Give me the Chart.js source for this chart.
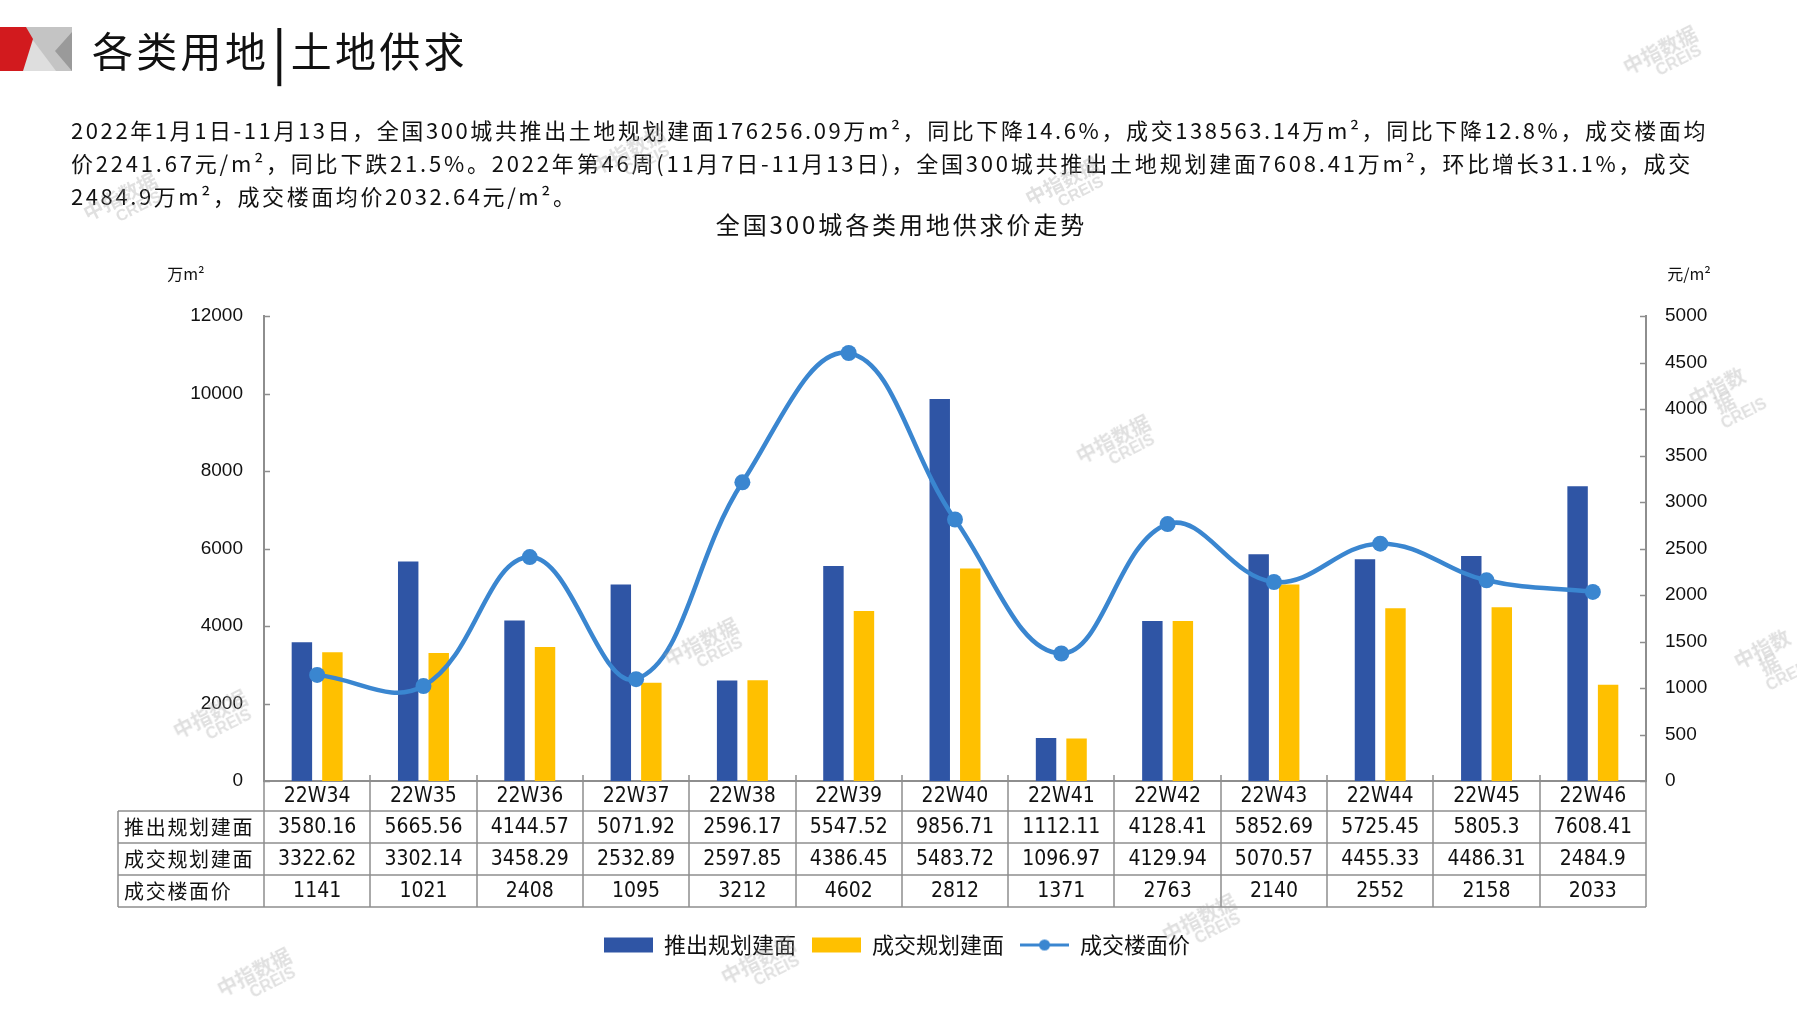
<!DOCTYPE html>
<html lang="zh-CN">
<head>
<meta charset="utf-8">
<title>各类用地|土地供求</title>
<script src="https://cdn.jsdelivr.net/npm/chart.js@4.4.0/dist/chart.umd.min.js"></script>
<style>
  html, body { margin: 0; padding: 0; background: #fff; }
  body {
    width: 1797px; height: 1010px; position: relative; overflow: hidden;
    font-family: "Noto Sans CJK SC", "Noto Sans", sans-serif; color: #111;
  }
  #chart { position: absolute; left: 0; top: 0; }
  .logo { position: absolute; left: 0; top: 27px; }
  .head {
    position: absolute; left: 92px; top: 20px; font-size: 41px; letter-spacing: 3.3px;
    white-space: nowrap; line-height: 58px;
  }
  .head .bar { font-weight: bold; display: inline-block; transform: scaleY(1.25); margin: 0 2px 0 4px; }
  .para { position: absolute; left: 71px; top: 113px; font-size: 22px; line-height: 33px; }
  .para div { white-space: nowrap; width: max-content; }
  .ctitle {
    position: absolute; left: 0; width: 1797px; padding-left: 3px; top: 207px; text-align: center;
    font-size: 24px; letter-spacing: 2.9px; line-height: 34px;
  }
  .wm {
    position: absolute; color: rgba(160, 160, 160, 0.32); transform: translate(-50%, -50%) rotate(-27deg);
    text-align: center; line-height: 18px; pointer-events: none; font-weight: bold;
  }
  .wm span { display: block; font-size: 20px; }
  .wm i { display: block; font-style: normal; font-size: 16px; font-family: "Liberation Sans", sans-serif; padding-left: 24px; }
</style>
</head>
<body>
<canvas id="chart" width="1797" height="1010"></canvas>

<svg class="logo" width="74" height="46" viewBox="0 0 74 46">
  <polygon points="24,0 72,0 72,44 22,44" fill="#c4c4c4"/>
  <polygon points="32,12 56,44 22,44" fill="#dedede"/>
  <polygon points="72,5 55,24 72,44" fill="#9a9a9a"/>
  <polygon points="0,0 26,0 33,12 23,44 0,44" fill="#d21a1e"/>
</svg>
<div class="head">各类用地<span class="bar">|</span>土地供求</div>

<div class="para">
  <div id="l1">2022年1月1日-11月13日，全国300城共推出土地规划建面176256.09万m²，同比下降14.6%，成交138563.14万m²，同比下降12.8%，成交楼面均</div>
  <div id="l2">价2241.67元/m²，同比下跌21.5%。2022年第46周(11月7日-11月13日)，全国300城共推出土地规划建面7608.41万m²，环比增长31.1%，成交</div>
  <div id="l3">2484.9万m²，成交楼面均价2032.64元/m²。</div>
</div>
<div class="ctitle">全国300城各类用地供求价走势</div>

<script>
// chart data
const categories = ['22W34', '22W35', '22W36', '22W37', '22W38', '22W39', '22W40',
                    '22W41', '22W42', '22W43', '22W44', '22W45', '22W46'];
const supplyArea = [3580.16, 5665.56, 4144.57, 5071.92, 2596.17, 5547.52, 9856.71,
                    1112.11, 4128.41, 5852.69, 5725.45, 5805.3, 7608.41];
const dealArea = [3322.62, 3302.14, 3458.29, 2532.89, 2597.85, 4386.45, 5483.72,
                  1096.97, 4129.94, 5070.57, 4455.33, 4486.31, 2484.9];
const dealPrice = [1141, 1021, 2408, 1095, 3212, 4602, 2812, 1371, 2763, 2140, 2552, 2158, 2033];
const seriesNames = ['推出规划建面', '成交规划建面', '成交楼面价'];
const leftTicks = [0, 2000, 4000, 6000, 8000, 10000, 12000];
const rightTicks = [0, 500, 1000, 1500, 2000, 2500, 3000, 3500, 4000, 4500, 5000];

const BLUE = '#2f55a5';
const YELLOW = '#ffc000';
const LINE = '#3a86d0';
const AXIS = '#8e8e8e';
const NUM_FONT = '"Liberation Sans Narrow", "DejaVu Sans Condensed", "Liberation Sans", sans-serif';
const CJK_FONT = '"Noto Sans CJK SC", sans-serif';

// stretch the paragraph lines like the original text box
(function fitParagraph() {
  const l1 = document.getElementById('l1');
  const l2 = document.getElementById('l2');
  const l3 = document.getElementById('l3');
  const fit = (el, target) => {
    const n = el.textContent.length;
    const sp = (target - el.getBoundingClientRect().width) / n;
    el.style.letterSpacing = sp + 'px';
    return sp;
  };
  const sp = fit(l1, 1637);
  fit(l2, 1622);
  l3.style.letterSpacing = sp + 'px';
})();

// watermarks
[[1664, 58], [124, 204], [632, 158], [1066, 189], [1117, 447], [1725, 403], [705, 650],
 [214, 722], [1770, 665], [258, 980], [762, 968], [1203, 926]].forEach(([x, y]) => {
  const d = document.createElement('div');
  d.className = 'wm';
  d.style.left = x + 'px';
  d.style.top = y + 'px';
  d.innerHTML = '<span>中指数据</span><i>CREIS</i>';
  document.body.appendChild(d);
});

function legendIcon(kind, color) {
  const c = document.createElement('canvas');
  c.width = 49;
  c.height = 17;
  const g = c.getContext('2d');
  if (kind === 'bar') {
    g.fillStyle = color;
    g.fillRect(0, 1, 49, 15);
  } else {
    g.strokeStyle = color;
    g.lineWidth = 3;
    g.beginPath();
    g.moveTo(0, 8.5);
    g.lineTo(49, 8.5);
    g.stroke();
    g.fillStyle = color;
    g.beginPath();
    g.arc(24.5, 8.5, 5.5, 0, Math.PI * 2);
    g.fill();
  }
  return c;
}
const legendIcons = [legendIcon('bar', BLUE), legendIcon('bar', YELLOW), legendIcon('line', LINE)];

// axis titles, inside tick marks and the data table under the x axis
const tablePlugin = {
  id: 'dataTable',
  afterDraw(chart) {
    const { ctx, chartArea: a, scales: { x, y, y1 } } = chart;
    const n = categories.length;
    const w = x.width / n;
    const tableLeft = 118;
    const rowTops = [a.bottom, a.bottom + 30, a.bottom + 62, a.bottom + 94, a.bottom + 126];

    ctx.save();
    ctx.strokeStyle = AXIS;
    ctx.lineWidth = 1.5;

    // tick marks pointing into the plot
    ctx.beginPath();
    leftTicks.forEach(v => {
      const py = Math.round(y.getPixelForValue(v)) + 0.5;
      ctx.moveTo(a.left, py);
      ctx.lineTo(a.left + 6, py);
    });
    rightTicks.forEach(v => {
      const py = Math.round(y1.getPixelForValue(v)) + 0.5;
      ctx.moveTo(a.right - 6, py);
      ctx.lineTo(a.right, py);
    });
    ctx.stroke();

    // table grid
    ctx.beginPath();
    for (let r = 1; r < rowTops.length; r++) {
      ctx.moveTo(tableLeft, rowTops[r]);
      ctx.lineTo(a.right, rowTops[r]);
    }
    ctx.moveTo(tableLeft, rowTops[1]);
    ctx.lineTo(tableLeft, rowTops[4]);
    for (let i = 0; i <= n; i++) {
      const px = Math.round(a.left + i * w);
      ctx.moveTo(px, a.bottom - 6);
      ctx.lineTo(px, rowTops[4]);
    }
    ctx.stroke();

    // table text
    ctx.fillStyle = '#111';
    ctx.textBaseline = 'middle';
    ctx.textAlign = 'center';
    ctx.font = '21px ' + NUM_FONT;
    const rows = [categories, supplyArea, dealArea, dealPrice];
    rows.forEach((vals, r) => {
      const cy = (rowTops[r] + rowTops[r + 1]) / 2 + 1;
      vals.forEach((v, i) => {
        ctx.fillText(String(v), x.getPixelForValue(i), cy);
      });
    });
    ctx.textAlign = 'left';
    ctx.font = '20px ' + CJK_FONT;
    seriesNames.forEach((name, r) => {
      const cy = (rowTops[r + 1] + rowTops[r + 2]) / 2;
      let px = 124;
      for (const ch of name) {
        ctx.fillText(ch, px, cy);
        px += 21.7;
      }
    });

    // axis units
    ctx.textAlign = 'center';
    ctx.font = '16px ' + CJK_FONT;
    ctx.fillText('万m²', 186, 274);
    ctx.fillText('元/m²', 1689, 274);
    ctx.restore();
  }
};

Chart.defaults.font.family = '"Liberation Sans", Arial, sans-serif';
Chart.defaults.color = '#111';

const plainTick = (v) => String(v);

new Chart(document.getElementById('chart'), {
  type: 'bar',
  data: {
    labels: categories,
    datasets: [
      {
        label: seriesNames[0],
        data: supplyArea,
        backgroundColor: BLUE,
        yAxisID: 'y',
        order: 1,
        barPercentage: 0.67,
        categoryPercentage: 0.574
      },
      {
        label: seriesNames[1],
        data: dealArea,
        backgroundColor: YELLOW,
        yAxisID: 'y',
        order: 1,
        barPercentage: 0.67,
        categoryPercentage: 0.574
      },
      {
        type: 'line',
        label: seriesNames[2],
        data: dealPrice,
        yAxisID: 'y1',
        order: 0,
        borderColor: LINE,
        backgroundColor: LINE,
        borderWidth: 4.5,
        tension: 0.4,
        pointRadius: 8,
        pointBackgroundColor: LINE,
        pointBorderColor: LINE,
        pointBorderWidth: 0
      }
    ]
  },
  options: {
    responsive: false,
    animation: false,
    devicePixelRatio: 1,
    layout: { padding: { left: 48, right: 51, top: 316, bottom: 44 } },
    scales: {
      x: {
        grid: { display: false, drawTicks: false },
        border: { display: true, color: AXIS, width: 2 },
        ticks: { display: false },
        afterFit: (scale) => { scale.height = 137; }
      },
      y: {
        position: 'left',
        min: 0,
        max: 12000,
        grid: { display: false, drawTicks: false },
        border: { display: true, color: AXIS, width: 2 },
        ticks: { stepSize: 2000, padding: 21, color: '#111', font: { size: 19 }, callback: plainTick },
        afterFit: (scale) => { scale.width = 216; }
      },
      y1: {
        position: 'right',
        min: 0,
        max: 5000,
        grid: { display: false, drawTicks: false },
        border: { display: true, color: AXIS, width: 2 },
        ticks: { stepSize: 500, padding: 19, color: '#111', font: { size: 19 }, callback: plainTick },
        afterFit: (scale) => { scale.width = 100; }
      }
    },
    plugins: {
      tooltip: { enabled: false },
      legend: {
        position: 'bottom',
        labels: {
          usePointStyle: true,
          pointStyleWidth: 49,
          padding: 16,
          color: '#111',
          font: { size: 22, family: CJK_FONT },
          sort: (a, b) => a.datasetIndex - b.datasetIndex,
          generateLabels: (chart) => {
            const items = Chart.defaults.plugins.legend.labels.generateLabels(chart);
            items.forEach(it => { it.pointStyle = legendIcons[it.datasetIndex]; });
            return items;
          }
        }
      }
    }
  },
  plugins: [tablePlugin]
});
</script>
</body>
</html>
